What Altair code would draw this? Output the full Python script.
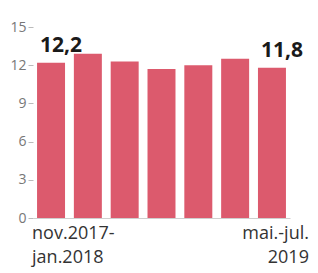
import altair as alt
import pandas as pd

periods = ["nov.2017-jan.2018", "fev.-abr.2018", "mai.-jul.2018", "ago.-out.2018",
           "nov.2018-jan.2019", "fev.-abr.2019", "mai.-jul.2019"]
rates = [12.2, 12.9, 12.3, 11.7, 12.0, 12.5, 11.8]
labelled = ["nov.2017-jan.2018", "mai.-jul.2019"]
y_ticks = [0, 3, 6, 9, 12, 15]

df = pd.DataFrame({"periodo": periods, "taxa": rates})

FONT = "Open Sans"
BAR = "#dc5a6d"

x_enc = alt.X(
    "periodo:N", sort=periods, title=None,
    scale=alt.Scale(paddingInner=0.24, paddingOuter=0.11),
    axis=alt.Axis(
        labelAngle=0, ticks=False, domainColor="#cfcfcf", domainWidth=1,
        labelFont=FONT, labelFontSize=18, labelColor="#333333", labelPadding=6,
        labelLineHeight=24, labelBaseline="top",
        labelExpr=("datum.value == 'nov.2017-jan.2018' ? ['nov.2017-', 'jan.2018'] : "
                   "datum.value == 'mai.-jul.2019' ? ['mai.-jul.', '2019'] : ''"),
        labelAlign=alt.ExprRef("datum.value == 'nov.2017-jan.2018' ? 'left' : 'right'"),
        labelOffset=alt.ExprRef("datum.value == 'nov.2017-jan.2018' ? -19 : 37"),
        labelOverlap=False, labelBound=False,
    ),
)

y_enc = alt.Y("taxa:Q", title=None,
              scale=alt.Scale(domain=[0, 15], nice=False),
              axis=alt.Axis(values=y_ticks, domain=False, grid=False, tickSize=5,
                            tickColor="#bbbbbb", labelPadding=2, labelOverlap=False,
                            labelFont=FONT, labelFontSize=14, labelColor="#777777"))

bars = alt.Chart(df).mark_bar(color=BAR).encode(x=x_enc, y=y_enc)

text = alt.Chart(df).transform_filter(
    alt.FieldOneOfPredicate(field="periodo", oneOf=labelled)
).transform_calculate(
    lbl="replace(format(datum.taxa, '.1f'), '.', ',')"
).mark_text(font=FONT, fontWeight="bold", fontSize=21, color="#1a1a1a",
            baseline="alphabetic", dx=10, dy=-11).encode(
    x=x_enc,
    y=y_enc,
    text="lbl:N",
)

chart = alt.layer(bars, text).properties(
    width=257, height=191,
    padding={"left": 25, "top": 19, "right": 20, "bottom": 55},
    autosize=alt.AutoSizeParams(type="none"),
).configure_view(stroke=None)

chart.save("out.html", embed_options={"renderer": "svg", "actions": False})
